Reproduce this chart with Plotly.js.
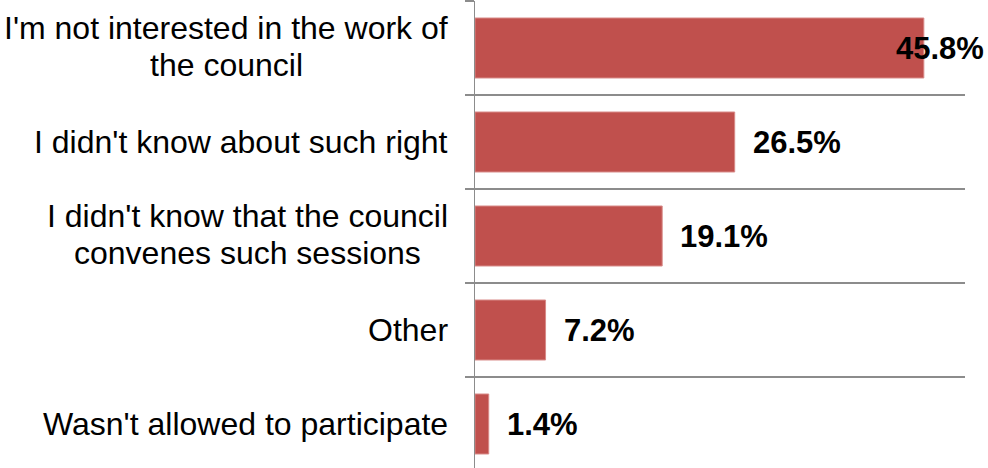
<!DOCTYPE html>
<html>
<head>
<meta charset="utf-8">
<script src="https://cdn.plot.ly/plotly-3.0.1.min.js"></script>
<style>html,body{margin:0;padding:0;background:#fff;}#chart{width:988px;height:468px;}</style>
</head>
<body>
<div id="chart"></div>
<script>
var categories = [
  "I'm not interested in the work of<br>the council",
  "I didn't know about such right",
  "I didn't know that the council<br>convenes such sessions",
  "Other",
  "Wasn't allowed to participate"
];
var values = [45.8, 26.5, 19.1, 7.2, 1.4];
var labels = ["45.8%", "26.5%", "19.1%", "7.2%", "1.4%"];

var W = 988, H = 468;
var margin = {l: 475, r: 23, t: 1, b: 0};
var xMax = 50;
var plotW = W - margin.l - margin.r;
var pxPerUnit = plotW / xMax;
var labelGap = 16, estLabelW = 92;
var FONT = 'Liberation Sans, Arial, sans-serif';
var CAT_SIZE = 32, LINE_H = 37, CAT_PAD = 27;

var ctx = document.createElement('canvas').getContext('2d');
ctx.font = CAT_SIZE + 'px "Liberation Sans", Arial, sans-serif';

var valueAnnotations = values.map(function(v, i) {
  var endPx = v * pxPerUnit;
  var a = {
    x: v, y: categories[i], xref: 'x', yref: 'y',
    text: labels[i], showarrow: false,
    xanchor: 'left', yanchor: 'middle', xshift: labelGap,
    font: {family: FONT, size: 31, color: '#000000', weight: 'bold'}
  };
  var limit = plotW + margin.r - 2;
  if (endPx + labelGap + estLabelW > limit) {
    a.xanchor = 'right';
    a.xshift = limit - endPx;
  }
  return a;
});

var categoryAnnotations = [];
categories.forEach(function(c) {
  var lines = c.split('<br>');
  var maxW = Math.max.apply(null, lines.map(function(s) { return ctx.measureText(s).width; }));
  lines.forEach(function(s, k) {
    var off = (lines.length > 1) ? ((lines.length - 1) / 2 - k) * LINE_H + 2 : 0;
    categoryAnnotations.push({
      x: 0, y: c, xref: 'x', yref: 'y',
      text: s, showarrow: false, align: 'center',
      xanchor: 'center', yanchor: 'middle',
      xshift: -CAT_PAD - maxW / 2, yshift: off,
      borderpad: 0,
      font: {family: FONT, size: CAT_SIZE, color: '#000000'}
    });
  });
});

var trace = {
  type: 'bar',
  orientation: 'h',
  x: values,
  y: categories,
  marker: {color: '#C0504D', line: {color: '#D88A88', width: 1}},
  hoverinfo: 'none'
};

var layout = {
  width: W, height: H,
  margin: margin,
  paper_bgcolor: '#ffffff',
  plot_bgcolor: '#ffffff',
  showlegend: false,
  bargap: 0.362,
  font: {family: FONT, size: 31, color: '#000000'},
  xaxis: {
    range: [0, xMax], showgrid: false, zeroline: false, showline: false,
    showticklabels: false, ticks: '', fixedrange: true
  },
  yaxis: {
    type: 'category',
    categoryorder: 'array', categoryarray: categories,
    range: [-0.5 + (H - margin.t - margin.b) / 94, -0.5],
    tickson: 'boundaries',
    ticks: 'outside', ticklen: 9, tickcolor: '#8c8c8c', tickwidth: 1.5,
    showgrid: true, gridcolor: '#8c8c8c', gridwidth: 1.5,
    showline: true, linecolor: '#8c8c8c', linewidth: 1.5,
    zeroline: false,
    showticklabels: false,
    automargin: false, fixedrange: true
  },
  annotations: categoryAnnotations.concat(valueAnnotations)
};

Plotly.newPlot('chart', [trace], layout, {displayModeBar: false, staticPlot: true});
</script>
</body>
</html>
